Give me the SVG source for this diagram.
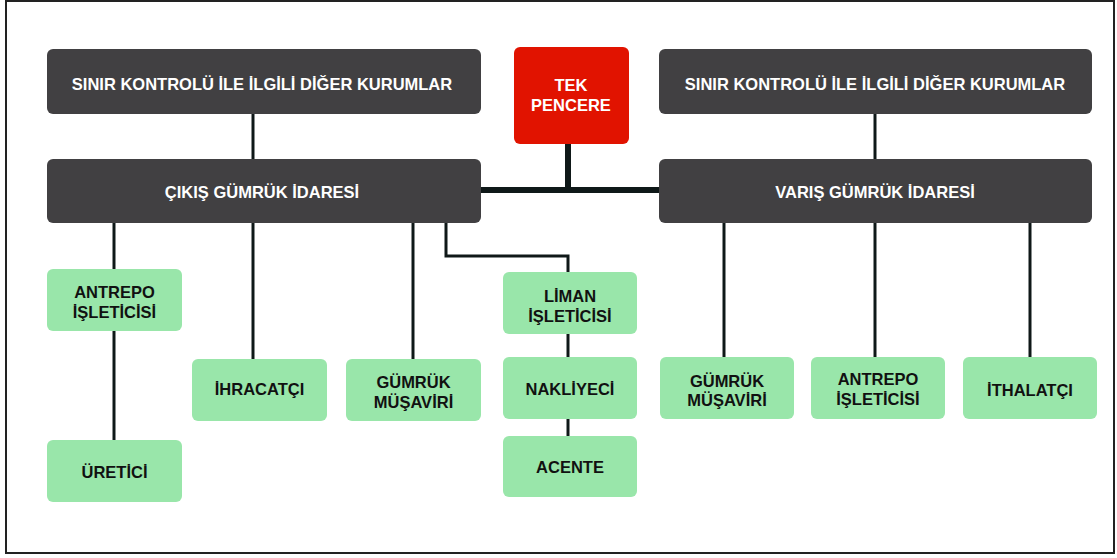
<svg xmlns="http://www.w3.org/2000/svg" width="1117" height="558" viewBox="0 0 1117 558">
<style>
.dark{fill:#414042}
.red{fill:#e11300}
.green{fill:#99e6aa}
.wt{fill:#ffffff;font-family:"Liberation Sans",Arial,sans-serif;font-weight:bold;font-size:16.5px;text-anchor:middle}
.bt{fill:#111111;font-family:"Liberation Sans",Arial,sans-serif;font-weight:bold;font-size:16.5px;text-anchor:middle}
.ln{fill:none;stroke:#0f1818;stroke-width:3}
.thick{fill:none;stroke:#0f1818;stroke-width:6}
</style>
<rect x="0" y="0" width="1117" height="558" fill="#ffffff"/>
<rect x="6" y="1" width="1108" height="552" fill="none" stroke="#222222" stroke-width="2"/>
<g id="connectors">
<line class="ln" x1="253" y1="114" x2="253" y2="159"/>
<line class="ln" x1="875" y1="114" x2="875" y2="159"/>
<line class="thick" x1="481" y1="190" x2="659" y2="190"/>
<line class="thick" x1="568" y1="144" x2="568" y2="190"/>
<line class="ln" x1="114" y1="223" x2="114" y2="269"/>
<line class="ln" x1="114" y1="331" x2="114" y2="440"/>
<line class="ln" x1="253" y1="223" x2="253" y2="359"/>
<line class="ln" x1="413" y1="223" x2="413" y2="359"/>
<polyline class="ln" points="446,223 446,256 568,256 568,272"/>
<line class="ln" x1="568" y1="333" x2="568" y2="357"/>
<line class="ln" x1="568" y1="419" x2="568" y2="436"/>
<line class="ln" x1="724" y1="223" x2="724" y2="357"/>
<line class="ln" x1="875" y1="223" x2="875" y2="357"/>
<line class="ln" x1="1030" y1="223" x2="1030" y2="357"/>
</g>
<g id="sinir-left">
<rect class="dark" x="47" y="49" width="434" height="65" rx="6"/>
<text class="wt" x="262" y="90">SINIR KONTROLÜ İLE İLGİLİ DİĞER KURUMLAR</text>
</g>
<g id="tek-pencere">
<rect class="red" x="514" y="47" width="115" height="97" rx="6"/>
<text class="wt" x="571" y="91">TEK</text>
<text class="wt" x="571" y="111">PENCERE</text>
</g>
<g id="sinir-right">
<rect class="dark" x="659" y="49" width="433" height="65" rx="6"/>
<text class="wt" x="875" y="90">SINIR KONTROLÜ İLE İLGİLİ DİĞER KURUMLAR</text>
</g>
<g id="cikis">
<rect class="dark" x="47" y="159" width="434" height="64" rx="6"/>
<text class="wt" x="262" y="198">ÇIKIŞ GÜMRÜK İDARESİ</text>
</g>
<g id="varis">
<rect class="dark" x="659" y="159" width="433" height="64" rx="6"/>
<text class="wt" x="875" y="198">VARIŞ GÜMRÜK İDARESİ</text>
</g>
<g id="antrepo-left">
<rect class="green" x="47" y="269" width="135" height="62" rx="6"/>
<text class="bt" x="114.5" y="298">ANTREPO</text>
<text class="bt" x="114.5" y="318">İŞLETİCİSİ</text>
</g>
<g id="uretici">
<rect class="green" x="47" y="440" width="135" height="62" rx="6"/>
<text class="bt" x="114.5" y="478">ÜRETİCİ</text>
</g>
<g id="ihracatci">
<rect class="green" x="192" y="359" width="135" height="62" rx="6"/>
<text class="bt" x="259.5" y="395">İHRACATÇI</text>
</g>
<g id="gumruk-left">
<rect class="green" x="346" y="359" width="135" height="62" rx="6"/>
<text class="bt" x="413.5" y="388">GÜMRÜK</text>
<text class="bt" x="413.5" y="408">MÜŞAVİRİ</text>
</g>
<g id="liman">
<rect class="green" x="503" y="272" width="134" height="62" rx="6"/>
<text class="bt" x="570" y="302">LİMAN</text>
<text class="bt" x="570" y="322">İŞLETİCİSİ</text>
</g>
<g id="nakliyeci">
<rect class="green" x="503" y="357" width="134" height="62" rx="6"/>
<text class="bt" x="570" y="395">NAKLİYECİ</text>
</g>
<g id="acente">
<rect class="green" x="503" y="436" width="134" height="61" rx="6"/>
<text class="bt" x="570" y="473">ACENTE</text>
</g>
<g id="gumruk-right">
<rect class="green" x="660" y="357" width="134" height="62" rx="6"/>
<text class="bt" x="727" y="387">GÜMRÜK</text>
<text class="bt" x="727" y="406">MÜŞAVİRİ</text>
</g>
<g id="antrepo-right">
<rect class="green" x="811" y="357" width="134" height="62" rx="6"/>
<text class="bt" x="878" y="385">ANTREPO</text>
<text class="bt" x="878" y="405">İŞLETİCİSİ</text>
</g>
<g id="ithalatci">
<rect class="green" x="963" y="357" width="134" height="62" rx="6"/>
<text class="bt" x="1030" y="396">İTHALATÇI</text>
</g>
</svg>
